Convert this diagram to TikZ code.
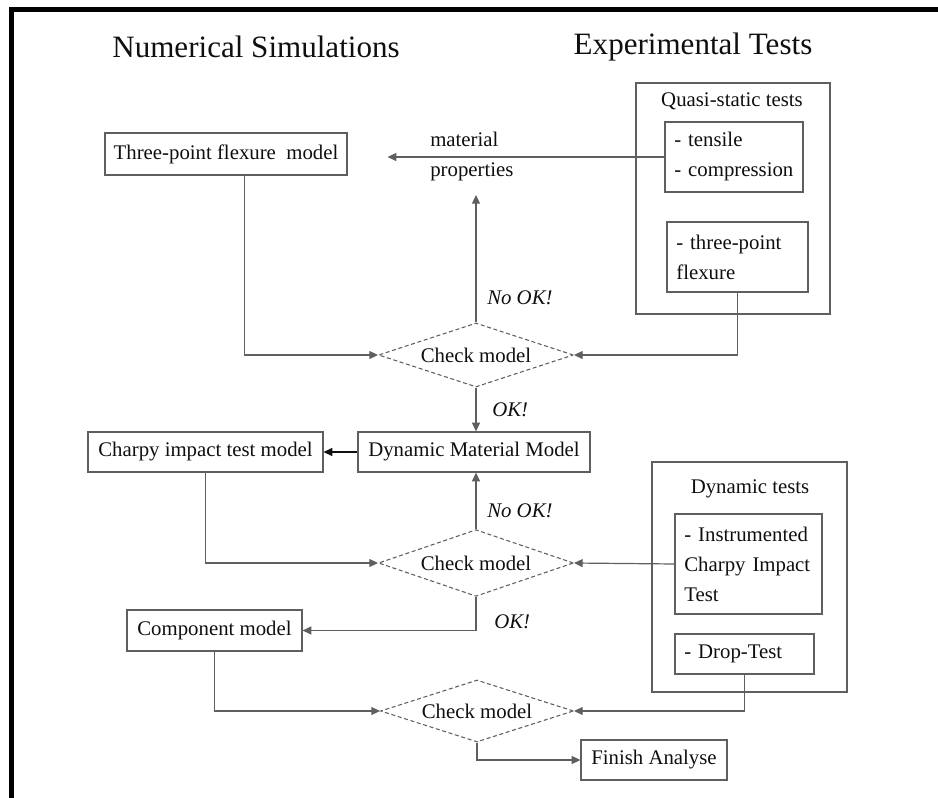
\documentclass[tikz,border=0pt]{standalone}
\usepackage{fontspec}
\setmainfont{Liberation Serif}
\usetikzlibrary{shapes.geometric,arrows.meta}
\definecolor{edge}{RGB}{95,95,95}
\definecolor{ink}{RGB}{15,15,15}
\newcommand{\body}{\fontsize{15.6}{22.5}\selectfont}
\newcommand{\heading}{\fontsize{23.3}{28}\selectfont}
\newcommand{\drawthick}{\draw[line width=3.75pt]}
\newcommand{\drawframe}{\draw[draw=edge, line width=0.9pt]}
\tikzset{
  model/.style={draw=edge, line width=0.9pt, inner sep=0pt, text=ink, font=\body},
  testbox/.style={model, align=left, inner xsep=7pt},
  check/.style={diamond, aspect=3, draw=edge, line width=0.8pt, densely dashed,
    inner sep=0pt, text=ink, font=\body},
  flow/.style={draw=edge, line width=0.9pt, -{Triangle[length=6.5pt,width=6pt]}},
  note/.style={inner sep=0pt, text=ink, font=\body},
}

\begin{document}
\begin{tikzpicture}[x=0.75pt, y=-0.75pt]
\useasboundingbox (0,0) rectangle (938,798);
\drawthick (11,798)--(11,10)--(938,10);

\node[note, font=\heading] (numsim) at (256,47) {Numerical Simulations};
\node[note, font=\heading] (exptest) at (693,47) {Experimental Tests};

\drawframe (636,83) rectangle (830,314);
\node[note] (quasi) at (732,101) {Quasi-static tests};
\node[testbox, minimum width=103.5pt, minimum height=52.5pt, text width=89.5pt] (tensile) at (734,157) {- tensile\\- compression};
\node[testbox, minimum width=105.75pt, minimum height=52.5pt, text width=91.75pt] (tpflex) at (737.5,257) {- three-point\\flexure};

\drawframe (652,462) rectangle (847,692);
\node[note] (dyn) at (750,489) {Dynamic tests};
\node[testbox, minimum width=110.25pt, minimum height=75pt, text width=96.25pt] (instr) at (748.5,564) {- Instrumented\\Charpy Impact\\Test};
\node[testbox, minimum width=104.25pt, minimum height=30pt, text width=90.25pt] (drop) at (744.5,654) {- Drop-Test};

\node[model, minimum width=181.5pt, minimum height=31.5pt] (tpfmodel) at (226,154) {Three-point flexure\ \ model};
\node[note, align=left, anchor=west] (matprop) at (430,157) {material\\properties};
\node[check, minimum width=146.25pt, minimum height=48pt] (chka) at (476,355) {Check model};
\node[model, minimum width=174pt, minimum height=30pt] (dmm) at (474,452) {Dynamic Material Model};
\node[model, minimum width=176.25pt, minimum height=30pt] (charpy) at (205.5,452) {Charpy impact test model};
\node[check, minimum width=146.25pt, minimum height=50pt] (chkb) at (476,563) {Check model};
\node[model, minimum width=131.25pt, minimum height=30.75pt] (comp) at (214.5,630.5) {Component model};
\node[check, minimum width=144.75pt, minimum height=46.5pt] (chkc) at (477,711) {Check model};
\node[model, minimum width=109.5pt, minimum height=30pt] (finish) at (654,760) {Finish Analyse};

\node[note, anchor=west] (nooka) at (487,298) {\textit{No OK!}};
\node[note, anchor=west] (oka) at (492,410) {\textit{OK!}};
\node[note, anchor=west] (nookb) at (487,511) {\textit{No OK!}};
\node[note, anchor=west] (okb) at (494,622) {\textit{OK!}};

\draw[flow, shorten >=30pt] (tensile.west) -- (tensile.west -| tpfmodel.east);
\draw[flow, shorten >=10pt] (chka.north) -- (chka.north |- matprop.south);
\draw[flow] ([xshift=14pt]tpfmodel.south) |- (chka.west);
\draw[flow] (tpflex.south) |- (chka.east);
\draw[flow] (chka.south) -- (chka.south |- dmm.north);
\draw[flow, draw=ink, line width=1.2pt] (dmm.west) -- (charpy.east);
\draw[flow] (charpy.south) |- (chkb.west);
\draw[flow] (chkb.north) -- (chkb.north |- dmm.south);
\draw[flow] (instr.west) -- (chkb.east);
\draw[flow] (chkb.south) |- (comp.east);
\draw[flow] (comp.south) |- (chkc.west);
\draw[flow] (drop.south) |- (chkc.east);
\draw[flow] (chkc.south) |- (finish.west);
\end{tikzpicture}
\end{document}
